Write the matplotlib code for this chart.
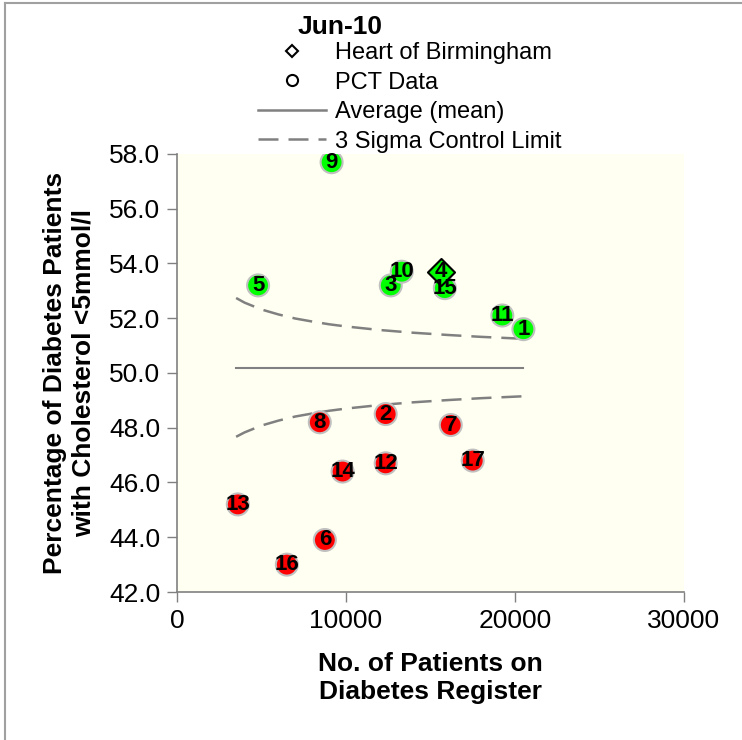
import matplotlib
matplotlib.use('Agg')
from matplotlib import pyplot as plt
from matplotlib.lines import Line2D
import numpy as np

plt.rcParams['font.family'] = ['Liberation Sans', 'DejaVu Sans']

# PCT data, Jun-10
pct_ids = ['1', '2', '3', '5', '6', '7', '8', '9', '10', '11', '12', '13', '14', '15', '16', '17']
pct_patients = [20500, 12350, 12650, 4800, 8750, 16200, 8450, 9150, 13300, 19250, 12350, 3600, 9800, 15850, 6500, 17500]
pct_percent = [51.6, 48.5, 53.2, 53.2, 43.9, 48.1, 48.2, 57.7, 53.7, 52.1, 46.7, 45.2, 46.4, 53.1, 43.0, 46.8]

# Heart of Birmingham
hob_id = '4'
hob_patients = 15600
hob_percent = 53.7

# average and 3 sigma limits
mean_value = 50.2
limit_patients = [3500, 4000, 5000, 6000, 7000, 8000, 9000, 10000, 12000, 14000, 16000, 18000, 20500]
upper_limit = [52.74, 52.57, 52.32, 52.14, 51.99, 51.88, 51.78, 51.70, 51.57, 51.47, 51.39, 51.32, 51.25]
lower_limit = [47.67, 47.83, 48.08, 48.26, 48.41, 48.52, 48.62, 48.70, 48.83, 48.93, 49.01, 49.08, 49.15]

fig = plt.figure(figsize=(7.42, 7.40), dpi=100)
ax = fig.add_axes([0.2385, 0.2, 0.6833, 0.5919])
ax.set_facecolor('#FFFFF2')

grey = '#808080'
ax.plot([limit_patients[0], limit_patients[-1]], [mean_value, mean_value], color=grey, lw=1.5)
ax.plot(limit_patients, upper_limit, color=grey, lw=1.8, ls=(0, (8, 4)))
ax.plot(limit_patients, lower_limit, color=grey, lw=1.8, ls=(0, (8, 4)))

colours = ['#00FF00' if p > mean_value else '#FF0000' for p in pct_percent]
ax.scatter(pct_patients, pct_percent, s=250, c=colours, edgecolors='#C0C0C0', linewidths=1.5, zorder=3)
ax.scatter([hob_patients], [hob_percent], s=190, marker='D', c='#00FF00', edgecolors='black', linewidths=1.5, zorder=3)

num_font = ['Liberation Sans Narrow', 'Liberation Sans', 'DejaVu Sans']
for x, y, t in zip(pct_patients, pct_percent, pct_ids):
    ax.text(x, y, t, ha='center', va='center', fontsize=16, fontweight='bold', family=num_font, zorder=4)
ax.text(hob_patients, hob_percent, hob_id, ha='center', va='center', fontsize=16, fontweight='bold', family=num_font, zorder=4)

ax.set_xlim(0, 30000)
ax.set_ylim(42, 58)
ax.set_xticks([0, 10000, 20000, 30000])
ax.set_yticks(np.arange(42, 58.1, 2))
ax.yaxis.set_major_formatter(matplotlib.ticker.FormatStrFormatter('%.1f'))
ax.tick_params(labelsize=19, length=7, width=1, color=grey, direction='out', pad=5)
for s in ['top', 'right']:
    ax.spines[s].set_visible(False)
for s in ['left', 'bottom']:
    ax.spines[s].set_color(grey)
    ax.spines[s].set_linewidth(1.2)

ax.set_xlabel('No. of Patients on\nDiabetes Register', fontsize=19, fontweight='bold', labelpad=14)
ax.set_ylabel('Percentage of Diabetes Patients\nwith Cholesterol <5mmol/l', fontsize=19, fontweight='bold', labelpad=10)

handles = [
    Line2D([], [], marker='D', ls='none', mfc='white', mec='black', ms=6, mew=1.5),
    Line2D([], [], marker='o', ls='none', mfc='white', mec='black', ms=8, mew=1.5),
    Line2D([], [], color=grey, lw=1.8),
    Line2D([], [], color=grey, lw=1.8, ls=(0, (8, 4))),
]
labels = ['Heart of Birmingham', 'PCT Data', 'Average (mean)', '3 Sigma Control Limit']
fig.legend(handles, labels, loc='upper left', bbox_to_anchor=(258 / 742, 1 - 42 / 740),
           frameon=False, fontsize=17, handlelength=2.9, handletextpad=0.35,
           labelspacing=0.32, borderpad=0, borderaxespad=0)
fig.text(298 / 742, 1 - 27 / 740, 'Jun-10', fontsize=19, fontweight='bold', va='center')

# outer border of the chart area
fig.add_artist(Line2D([5 / 742, 5 / 742], [0, 1 - 3 / 740], color='#A0A0A0', lw=1.5))
fig.add_artist(Line2D([5 / 742, 1], [1 - 3 / 740, 1 - 3 / 740], color='#A0A0A0', lw=1.5))

plt.savefig('out.png', dpi=100)
